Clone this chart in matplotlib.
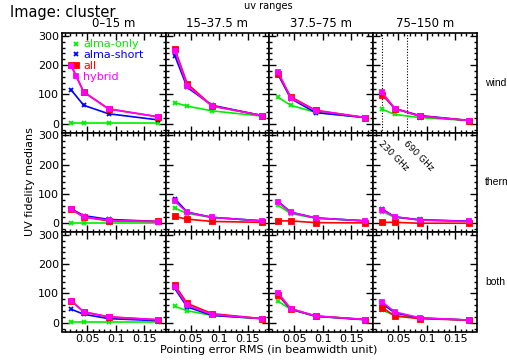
import matplotlib
matplotlib.use("Agg")
import matplotlib.pyplot as plt
from matplotlib.lines import Line2D
from matplotlib.ticker import MultipleLocator, FuncFormatter

# ---------------- data ----------------
pointing = [0.021875, 0.04375, 0.0875, 0.175]
uv_ranges = ["0\u201315 m", "15\u201337.5 m", "37.5\u201375 m", "75\u2013150 m"]
row_labels = ["wind", "thermal", "both"]
series_names = ["alma-only", "alma-short", "all", "hybrid"]

# values[row][col] -> per series list
alma_only = [
    [[2, 2, 2, 2], [72, 60, 44, 26], [90, 63, 39, 21], [49, 32, 21, 11]],
    [[2, 2, 2, 2], [52, 33, 20, 8], [61, 33, 17, 8], [40, 20, 13, 6]],
    [[2, 2, 2, 2], [56, 41, 25, 14], [73, 46, 22, 11], [43, 25, 15, 9]],
]
alma_short = [
    [[115, 63, 34, 13], [233, 124, 63, 28], [167, 86, 38, 21], [103, 52, 28, 11]],
    [[49, 26, 13, 6], [84, 38, 20, 8], [74, 38, 18, 8], [48, 22, 11, 7]],
    [[46, 29, 14, 7], [117, 54, 25, 14], [94, 46, 22, 10], [65, 34, 16, 9]],
]
all_arr = [
    [[200, 109, 51, 23], [256, 137, 61, 28], [170, 92, 46, 21], [99, 52, 26, 11]],
    [[48, 21, 8, 6], [23, 14, 6, 3], [8, 8, 2, 1], [3, 3, 0, 0]],
    [[75, 37, 20, 10], [129, 66, 31, 14], [96, 48, 23, 11], [52, 23, 14, 9]],
]
hybrid = [
    [[197, 108, 50, 24], [250, 130, 60, 28], [177, 88, 45, 21], [107, 52, 26, 11]],
    [[47, 22, 10, 5], [75, 37, 20, 8], [71, 37, 18, 8], [45, 22, 11, 6]],
    [[75, 37, 20, 10], [122, 60, 28, 14], [102, 48, 23, 11], [71, 37, 17, 9]],
]
freq_labels = ["230 GHz", "690 GHz"]
freq_lines = [0.021875, 0.065625]

colors = ["#00ee00", "#0000ff", "#ff0000", "#ff00ff"]
markers = ["x", "x", "s", "s"]
msizes = [3.2, 3.2, 3.6, 2.8]

# ---------------- figure ----------------
W, H = 507, 363
fig = plt.figure(figsize=(W / 100, H / 100), dpi=100)
plt.rcParams["font.family"] = ["DejaVu Sans"]

lefts = [62, 165.5, 269, 373]
pw = 104
tops = [33, 132.5, 232]
ph = 99.5

for r in range(3):
    for c in range(4):
        ax = fig.add_axes([lefts[c] / W, 1 - (tops[r] + ph) / H, pw / W, ph / H])
        data = [alma_only[r][c], alma_short[r][c], all_arr[r][c], hybrid[r][c]]
        for k in range(4):
            ax.plot(pointing, data[k], color=colors[k], marker=markers[k],
                    ms=msizes[k], mew=1.3, lw=1.2, clip_on=False, zorder=3 + k)
        ax.set_xlim(0.0056, 0.1885)
        ax.set_ylim(-30, 310)
        ax.xaxis.set_major_locator(MultipleLocator(0.05))
        ax.xaxis.set_minor_locator(MultipleLocator(0.01))
        ax.yaxis.set_major_locator(MultipleLocator(100))
        ax.yaxis.set_minor_locator(MultipleLocator(20))
        ax.tick_params(which="both", direction="in", top=True, right=True,
                       labelsize=8, width=1, pad=2)
        ax.tick_params(which="major", length=5)
        ax.tick_params(which="minor", length=2.5)
        for s in ax.spines.values():
            s.set_linewidth(1.2)
        ax.xaxis.set_major_formatter(FuncFormatter(lambda v, p: "%g" % round(v, 3)))
        if c != 0:
            ax.set_yticklabels([])
        if r != 2:
            ax.set_xticklabels([])
        if r == 0:
            ax.set_title(uv_ranges[c], fontsize=8.5, pad=4)
        if r == 0 and c == 0:
            handles = [Line2D([], [], ls="none", marker=markers[k], color=colors[k],
                              ms=msizes[k], mew=1.3) for k in range(4)]
            ax.legend(handles, series_names, loc="upper left", frameon=False,
                      fontsize=8, labelcolor=colors, handlelength=0.5,
                      handletextpad=0.4, labelspacing=0.08,
                      borderaxespad=0.0, borderpad=0.0,
                      bbox_to_anchor=(0.11, 0.935))
        if r == 0 and c == 3:
            for xv in freq_lines:
                ax.axvline(xv, color="black", ls=(0, (1, 1.5)), lw=0.8)
        if r == 1 and c == 3:
            for xv, lab in zip(freq_lines, freq_labels):
                ax.text(xv + 0.001, 286, lab, rotation=-45, rotation_mode="anchor",
                        ha="left", va="top", fontsize=6.5)
        if c == 3:
            ax.text((485 - lefts[c]) / pw, 0.5, row_labels[r], transform=ax.transAxes,
                    fontsize=7.5, ha="left", va="center", family="Liberation Sans")

fig.text(10 / W, 1 - 12 / H, "Image: cluster", fontsize=10.5, ha="left", va="center")
fig.text(268 / W, 1 - 6 / H, "uv ranges", fontsize=7, ha="center", va="center")
fig.text(30 / W, 1 - 182 / H, "UV fidelity medians", fontsize=8, rotation=90,
         ha="center", va="center")
fig.text(269 / W, 1 - 350 / H, "Pointing error RMS (in beamwidth unit)", fontsize=8,
         ha="center", va="center")

fig.savefig("out.png", dpi=100)
